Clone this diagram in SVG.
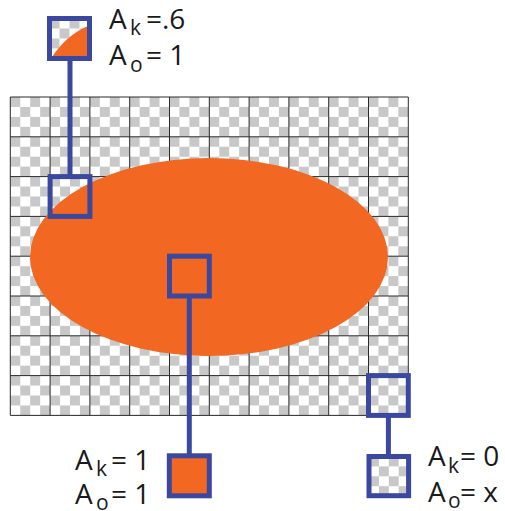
<svg xmlns="http://www.w3.org/2000/svg" width="505" height="511" viewBox="0 0 505 511">
<defs>
<pattern id="chk" patternUnits="userSpaceOnUse" x="10.3" y="97" width="19.9" height="19.9">
<rect width="19.9" height="19.9" fill="#ffffff"/>
<rect width="9.95" height="9.95" fill="#c8c8c8"/>
<rect x="9.95" y="9.95" width="9.95" height="9.95" fill="#c8c8c8"/>
</pattern>
<pattern id="chkA" patternUnits="userSpaceOnUse" x="49.5" y="18.5" width="20" height="20">
<rect width="20" height="20" fill="#ffffff"/>
<rect width="10" height="10" fill="#c8c8c8"/>
<rect x="10" y="10" width="10" height="10" fill="#c8c8c8"/>
</pattern>
<pattern id="chkB" patternUnits="userSpaceOnUse" x="369" y="456.5" width="19.8" height="19.8">
<rect width="19.8" height="19.8" fill="#ffffff"/>
<rect width="9.9" height="9.9" fill="#c8c8c8"/>
<rect x="9.9" y="9.9" width="9.9" height="9.9" fill="#c8c8c8"/>
</pattern>
</defs>
<style>
.grid{stroke:#2a2a2a;stroke-width:1;fill:none}
.box{stroke:#3a48a0;stroke-width:5;}
.conn{stroke:#3a48a0;stroke-width:5;fill:none}
.t{font-family:"Open Sans","Liberation Sans",sans-serif;font-size:28px;fill:#1a1a1a}
.s{font-size:21px}
</style>
<rect width="505" height="511" fill="#ffffff"/>
<g id="grid">
<rect x="10.3" y="97" width="398" height="318.4" fill="url(#chk)"/>
<path class="grid" d="M10.3 97V415.4M50.1 97V415.4M89.9 97V415.4M129.7 97V415.4M169.5 97V415.4M209.3 97V415.4M249.1 97V415.4M288.9 97V415.4M328.7 97V415.4M368.5 97V415.4M408.3 97V415.4M10.3 97H408.3M10.3 136.8H408.3M10.3 176.6H408.3M10.3 216.4H408.3M10.3 256.2H408.3M10.3 296H408.3M10.3 335.8H408.3M10.3 375.6H408.3M10.3 415.4H408.3"/>
</g>
<g id="ellipse">
<ellipse cx="209" cy="257" rx="179" ry="99" fill="#f26722"/>
</g>
<g id="connectors">
<line class="conn" x1="70" y1="61" x2="70" y2="176.6"/>
<line class="conn" x1="189.3" y1="296" x2="189.3" y2="455.8"/>
<line class="conn" x1="388.4" y1="415.4" x2="388.4" y2="456.5"/>
</g>
<g id="box-top">
<rect x="49.5" y="18.5" width="40" height="40" fill="url(#chkA)"/>
<path d="M51 58.5 Q66 35 89 25.5 V58.5 Z" fill="#f26722"/>
<rect class="box" x="49.5" y="18.5" width="40" height="40" fill="none"/>
</g>
<g id="box-edge">
<rect class="box" x="50.1" y="176.6" width="39.8" height="39.8" fill="none"/>
</g>
<g id="box-center">
<rect class="box" x="169.5" y="256.2" width="39.8" height="39.8" fill="none"/>
</g>
<g id="box-corner">
<rect class="box" x="368.5" y="375.6" width="39.8" height="39.8" fill="none"/>
</g>
<g id="box-orange">
<rect class="box" x="169.3" y="455.8" width="40" height="40" fill="#f26722"/>
</g>
<g id="box-empty">
<rect x="369" y="456.5" width="39.6" height="39.2" fill="url(#chkB)"/>
<rect class="box" x="369" y="456.5" width="39.6" height="39.2" fill="none"/>
</g>
<g id="label-top">
<text class="t"><tspan x="109" y="29">A</tspan><tspan class="s" x="130" y="35">k</tspan><tspan x="146" y="29">=.6</tspan></text>
<text class="t"><tspan x="109" y="65">A</tspan><tspan class="s" x="130" y="72">o</tspan><tspan x="146" y="65">= 1</tspan></text>
</g>
<g id="label-bl">
<text class="t"><tspan x="75" y="469.5">A</tspan><tspan class="s" x="96" y="476">k</tspan><tspan x="111" y="469.5">= 1</tspan></text>
<text class="t"><tspan x="75" y="504">A</tspan><tspan class="s" x="96" y="510">o</tspan><tspan x="111" y="504">= 1</tspan></text>
</g>
<g id="label-br">
<text class="t"><tspan x="428" y="466">A</tspan><tspan class="s" x="448" y="473">k</tspan><tspan x="460" y="466">= 0</tspan></text>
<text class="t"><tspan x="428" y="501.5">A</tspan><tspan class="s" x="448" y="508">o</tspan><tspan x="460" y="501.5">= x</tspan></text>
</g>
</svg>
